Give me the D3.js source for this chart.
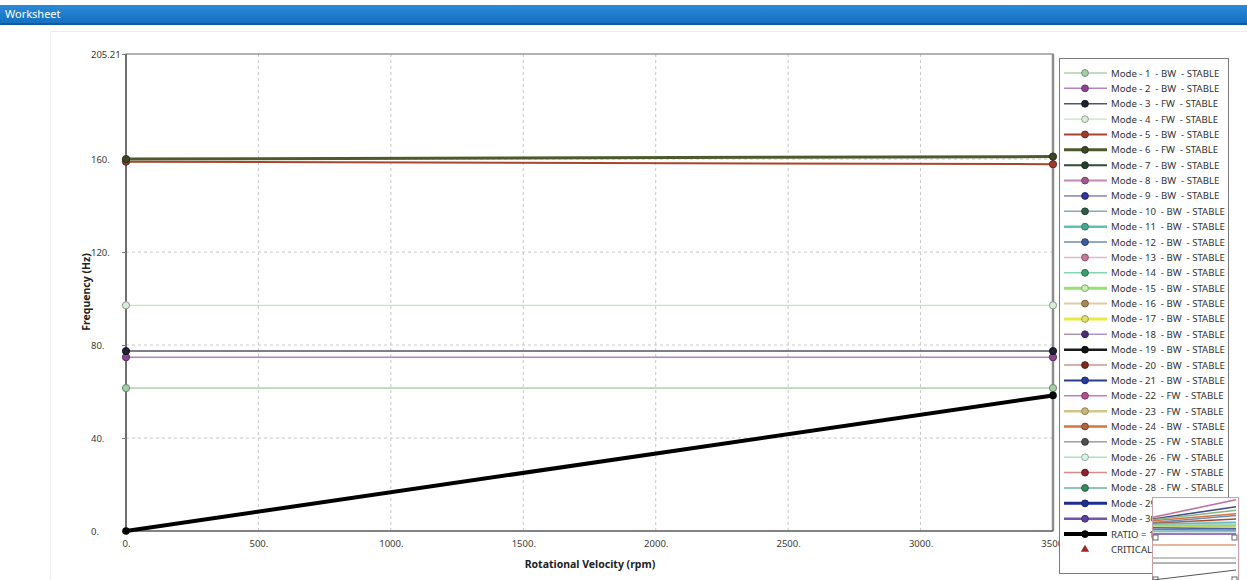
<!DOCTYPE html>
<html>
<head>
<meta charset="utf-8">
<script src="https://cdn.jsdelivr.net/npm/d3@7"></script>
<style>
  html, body { margin: 0; padding: 0; background: #fff; }
  svg { display: block; font-family: "Noto Sans", "Open Sans", sans-serif; }
  text { white-space: pre; }
</style>
</head>
<body>
<svg id="chart" width="1247" height="580"></svg>
<script>
// Campbell diagram: natural frequencies vs rotor speed
const speeds = [0, 3500];
const yTicks = [0, 40, 80, 120, 160, 205.21];
const yTickLabels = ["0.", "40.", "80.", "120.", "160.", "205.21"];
const xTicks = [0, 500, 1000, 1500, 2000, 2500, 3000, 3500];
const xTickLabels = ["0.", "500.", "1000.", "1500.", "2000.", "2500.", "3000.", "3500."];

const modeNames = d3.range(1, 31).map(String);
const whirl = ["BW","BW","FW","FW","BW","FW","BW","BW","BW","BW","BW","BW","BW","BW","BW",
               "BW","BW","BW","BW","BW","BW","FW","FW","BW","FW","FW","FW","FW","BW","BW"];
const stability = Array(30).fill("STABLE");
const lineColors = ["#86b986","#b583c4","#555566","#b8dcb8","#a8452e","#4f5a2c","#2e4d38","#c686b8",
  "#4a4a8c","#86abab","#5cc4b2","#6e8db4","#e4b8cc","#86d6b4","#96e272","#e2cca4","#e8ea3c",
  "#a898c6","#1a1a1a","#c8988a","#2a3e8e","#d276b6","#d6c486","#d4763e","#6e6e6e","#a6e4c4",
  "#d88a8a","#62b4a2","#1e2e92","#7654a8"];
const markerFill = ["#a6cfa6","#8c4690","#1f2233","#d8ecd8","#a03a2c","#3c472a","#24402c","#a05a92",
  "#3434a0","#2e5a48","#48a892","#3e5c9e","#c47a98","#3e9e6c","#c8eeb8","#a88856","#e0e070",
  "#4a2e70","#111111","#82281e","#263c9e","#b0508e","#c8b878","#b2623c","#4e4e4e","#d8f4e4",
  "#8e2030","#3a8a5c","#1e2e92","#5a40a0"];
const lineWidths = [1,1.5,1.5,1,2,3,2,2,1,1.5,2.5,1.5,1.5,1.5,3,2,3,1.5,2.5,1.5,2,1.5,2.5,2.5,1,1.5,1.5,1.5,3,2.5];

// Frequencies (Hz) at 0 and 3500 rpm for the modes inside the plotted range
const mode1 = [61.5, 61.5];
const mode2 = [74.8, 74.8];
const mode3 = [77.4, 77.4];
const mode4 = [97.1, 97.1];
const mode5 = [158.9, 157.8];
const mode6 = [160.0, 161.1];
const plottedModes = [mode1, mode2, mode3, mode4, mode5, mode6];

// Excitation line RATIO = 1 (frequency = rpm / 60)
const ratioLabel = "RATIO = 1";
const ratioValues = [0, 58.33];

const svg = d3.select("#chart");

// window title bar
const grad = svg.append("defs").append("linearGradient")
  .attr("id", "bar").attr("x1", 0).attr("x2", 0).attr("y1", 0).attr("y2", 1);
grad.append("stop").attr("offset", "0").attr("stop-color", "#2a8ad8");
grad.append("stop").attr("offset", "1").attr("stop-color", "#1670c0");
svg.append("rect").attr("x", 0).attr("y", 5).attr("width", 1247).attr("height", 18).attr("fill", "url(#bar)");
svg.append("rect").attr("x", 0).attr("y", 23).attr("width", 1247).attr("height", 2).attr("fill", "#0f5a9e");
svg.append("text").attr("x", 5).attr("y", 18).attr("fill", "#fff")
  .attr("font-size", 11).text("Worksheet");

// panel outline
svg.append("rect").attr("x", 50.5).attr("y", 31.5).attr("width", 1210).attr("height", 560)
  .attr("fill", "none").attr("stroke", "#ececec");

const x = d3.scaleLinear().domain([0, 3500]).range([126, 1053]);
const y = d3.scaleLinear().domain([0, 205.21]).range([531, 54]);

// dashed grid
svg.append("g").selectAll("line").data(yTicks.filter(v => v > 0 && v < 200)).join("line")
  .attr("x1", x(0)).attr("x2", x(3500)).attr("y1", d => y(d)).attr("y2", d => y(d))
  .attr("stroke", "#c8c8c8").attr("stroke-dasharray", "3,3");
svg.append("g").selectAll("line").data(xTicks.filter(v => v > 0 && v < 3500)).join("line")
  .attr("y1", y(0)).attr("y2", y(205.21)).attr("x1", d => x(d)).attr("x2", d => x(d))
  .attr("stroke", "#c8c8c8").attr("stroke-dasharray", "3,3");

// frame
svg.append("rect").attr("x", x(0)).attr("y", y(205.21)).attr("width", x(3500) - x(0))
  .attr("height", y(0) - y(205.21)).attr("fill", "none").attr("stroke", "#808080").attr("stroke-width", 1.2);
svg.append("line").attr("x1", x(3500)).attr("x2", x(3500)).attr("y1", y(205.21)).attr("y2", y(0))
  .attr("stroke", "#8c8c8c").attr("stroke-width", 2.5);
svg.append("line").attr("x1", x(0)).attr("x2", x(0)).attr("y1", y(205.21)).attr("y2", y(0))
  .attr("stroke", "#444").attr("stroke-width", 1.2);
svg.append("line").attr("x1", x(0)).attr("x2", x(3500)).attr("y1", y(0)).attr("y2", y(0))
  .attr("stroke", "#555").attr("stroke-width", 1.2);

// y axis ticks and labels
const yAxis = d3.axisLeft(y).tickValues(yTicks).tickSize(4).tickFormat((d, i) => yTickLabels[i]);
const gy = svg.append("g").attr("transform", `translate(${x(0)},0)`).call(yAxis);
gy.select(".domain").remove();
gy.selectAll(".tick line").attr("stroke", "#777");
gy.selectAll(".tick text").attr("x", 91 - x(0)).attr("text-anchor", "start")
  .attr("font-size", 9.5).attr("fill", "#3a3a3a").attr("font-family", "Noto Sans, sans-serif");

// x axis labels
const xAxis = d3.axisBottom(x).tickValues(xTicks).tickSize(0).tickPadding(9).tickFormat((d, i) => xTickLabels[i]);
const gx = svg.append("g").attr("transform", `translate(0,${y(0)})`).call(xAxis);
gx.select(".domain").remove();
gx.selectAll(".tick text").attr("font-size", 9.5).attr("fill", "#3a3a3a").attr("font-family", "Noto Sans, sans-serif");

// axis titles
svg.append("text").attr("x", 590).attr("y", 568).attr("text-anchor", "middle")
  .attr("font-size", 10.5).attr("font-weight", "bold").attr("fill", "#222").text("Rotational Velocity (rpm)");
svg.append("text").attr("transform", `translate(90,292) rotate(-90)`).attr("text-anchor", "middle")
  .attr("font-size", 10.5).attr("font-weight", "bold").attr("fill", "#222").text("Frequency (Hz)");

// mode curves
const line = d3.line().x((d, i) => x(speeds[i])).y(d => y(d));
const plot = svg.append("g");
plottedModes.forEach((vals, m) => {
  plot.append("path").datum(vals).attr("d", line).attr("fill", "none")
    .attr("stroke", lineColors[m]).attr("stroke-width", lineWidths[m]);
});
// ratio line
plot.append("path").datum(ratioValues).attr("d", line).attr("fill", "none")
  .attr("stroke", "#000").attr("stroke-width", 4);
// markers
plottedModes.forEach((vals, m) => {
  plot.selectAll(null).data(vals).join("circle")
    .attr("cx", (d, i) => x(speeds[i])).attr("cy", d => y(d)).attr("r", 3.6)
    .attr("fill", markerFill[m]).attr("stroke", d3.color(markerFill[m]).darker(1.2)).attr("stroke-width", 1);
});
plot.selectAll(null).data(ratioValues).join("circle")
  .attr("cx", (d, i) => x(speeds[i])).attr("cy", d => y(d)).attr("r", 3.8).attr("fill", "#000");

// legend
const lg = svg.append("g");
lg.append("rect").attr("x", 1059.5).attr("y", 58.5).attr("width", 169).attr("height", 515)
  .attr("fill", "#fff").attr("stroke", "#7a7a7a");
const rowY = i => 73 + i * 15.37;
const legendRows = modeNames.map((n, i) => ({
  label: `Mode - ${n}  - ${whirl[i]}  - ${stability[i]}`,
  color: lineColors[i], fill: markerFill[i], w: lineWidths[i]
}));
legendRows.push({ label: ratioLabel, color: "#000", fill: "#000", w: 4 });
legendRows.forEach((r, i) => {
  const yy = rowY(i);
  lg.append("line").attr("x1", 1064).attr("x2", 1107).attr("y1", yy).attr("y2", yy)
    .attr("stroke", r.color).attr("stroke-width", r.w);
  lg.append("circle").attr("cx", 1085).attr("cy", yy).attr("r", 3.4)
    .attr("fill", r.fill).attr("stroke", d3.color(r.fill).darker(1)).attr("stroke-width", 1);
  lg.append("text").attr("x", 1111).attr("y", yy + 3.5).attr("font-size", 9.6).attr("fill", "#333").text(r.label);
});
const cy = rowY(31);
lg.append("path").attr("d", d3.symbol(d3.symbolTriangle, 30)()).attr("transform", `translate(1085,${cy})`)
  .attr("fill", "#a02424");
lg.append("text").attr("x", 1111).attr("y", cy + 3.5).attr("font-size", 9.6).attr("fill", "#333").text("CRITICAL");

// hover preview thumbnail over the legend corner
const thumbTop = [
  { a: 0.55, b: 0.05, c: "#c070a0" }, { a: 0.6, b: 0.25, c: "#4a4a8c" }, { a: 0.62, b: 0.35, c: "#86b986" },
  { a: 0.65, b: 0.45, c: "#d4763e" }, { a: 0.7, b: 0.5, c: "#6e8db4" }, { a: 0.72, b: 0.6, c: "#a8452e" },
  { a: 0.75, b: 0.7, c: "#5cc4b2" }, { a: 0.78, b: 0.78, c: "#96e272" }, { a: 0.8, b: 0.82, c: "#e8ea3c" },
  { a: 0.85, b: 0.88, c: "#2a3e8e" }, { a: 0.9, b: 0.92, c: "#7654a8" }, { a: 0.95, b: 0.95, c: "#86d6b4" }
];
const tx = d3.scaleLinear().domain([0, 1]).range([1153, 1236]);
const ty = d3.scaleLinear().domain([0, 1]).range([498, 533]);
const th = svg.append("g");
th.append("rect").attr("x", 1152.5).attr("y", 497.5).attr("width", 86).attr("height", 90)
  .attr("fill", "#fff").attr("stroke", "#c9a0a8");
thumbTop.forEach(t => {
  th.append("line").attr("x1", tx(0)).attr("x2", tx(1)).attr("y1", ty(t.a)).attr("y2", ty(t.b))
    .attr("stroke", t.c).attr("stroke-width", 1.6);
});
th.append("rect").attr("x", 1153).attr("y", 521).attr("width", 83).attr("height", 12).attr("fill", "#7fb0c8").attr("opacity", 0.35);
th.append("line").attr("x1", tx(0)).attr("x2", tx(1)).attr("y1", 534).attr("y2", 534).attr("stroke", "#9a7ab0").attr("stroke-width", 2);
[[1153, 535], [1232, 535], [1153, 577], [1232, 577]].forEach(p => {
  th.append("rect").attr("x", p[0]).attr("y", p[1]).attr("width", 5).attr("height", 5)
    .attr("fill", "#fff").attr("stroke", "#666");
});
th.append("line").attr("x1", tx(0)).attr("x2", tx(1)).attr("y1", 545).attr("y2", 545).attr("stroke", "#c8703a").attr("stroke-width", 1.2);
th.append("line").attr("x1", tx(0)).attr("x2", tx(1)).attr("y1", 558).attr("y2", 558).attr("stroke", "#888").attr("stroke-width", 1);
th.append("line").attr("x1", tx(0)).attr("x2", tx(1)).attr("y1", 563).attr("y2", 563).attr("stroke", "#666").attr("stroke-width", 1);
th.append("line").attr("x1", tx(0)).attr("x2", tx(1)).attr("y1", 580).attr("y2", 570).attr("stroke", "#555").attr("stroke-width", 1);
</script>
</body>
</html>
